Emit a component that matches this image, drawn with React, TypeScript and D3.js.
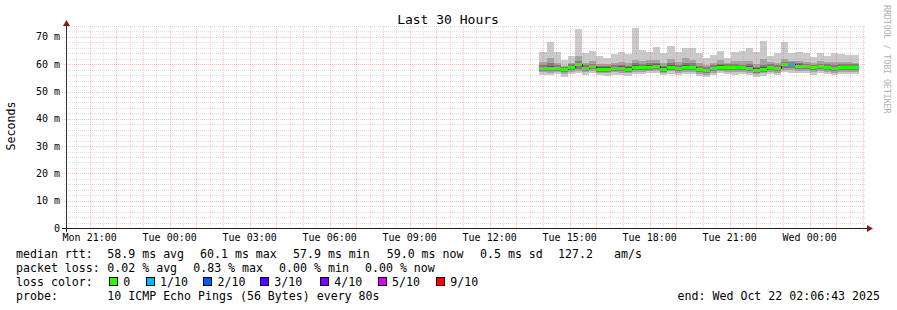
import React from 'react';
import * as d3 from 'd3';

const WIDTH = 897;
const HEIGHT = 310;
const END_TIME = '2025-10-22T02:06:43Z';
const SPAN_HOURS = 30;
const FIRST_STEP = '2025-10-21T13:52:00Z';
const STEP_SECONDS = 960;
const Y_MAX = 74;

const rttMax = [64.5, 68.3, 64.5, 61.7, 63.1, 73.0, 64.2, 65.0, 62.9, 62.4, 63.6, 64.5, 63.6, 73.4, 65.3, 64.5, 66.4, 64.1, 66.8, 64.5, 65.8, 65.8, 64.2, 62.4, 63.5, 65.0, 62.4, 64.3, 65.0, 66.1, 64.5, 68.6, 63.1, 64.1, 68.0, 64.2, 64.6, 64.2, 62.7, 64.2, 63.1, 64.1, 63.9, 63.5, 63.5];
const rttP9 = [60.8, 62.4, 60.3, 59.5, 60.6, 62.9, 60.5, 61.0, 60.0, 60.1, 60.6, 60.9, 60.3, 61.6, 61.2, 61.5, 61.7, 60.3, 62.0, 60.9, 62.3, 61.6, 60.6, 59.8, 60.4, 61.5, 60.5, 61.0, 61.2, 61.3, 60.2, 61.8, 60.8, 60.5, 62.0, 61.0, 61.0, 60.8, 60.5, 61.0, 60.7, 60.9, 60.8, 60.9, 60.6];
const rttP8 = [59.8, 60.4, 59.6, 59.0, 59.9, 61.0, 59.6, 60.2, 59.2, 59.3, 59.7, 59.8, 59.4, 60.3, 60.2, 60.3, 60.6, 59.4, 60.4, 59.8, 60.4, 60.3, 59.3, 58.9, 59.6, 60.2, 60.0, 59.9, 59.8, 59.9, 59.0, 59.6, 60.0, 59.6, 60.8, 60.8, 60.5, 60.2, 59.7, 60.2, 59.9, 59.6, 60.0, 59.9, 59.9];
const rttP7 = [59.1, 59.2, 59.1, 58.6, 59.5, 60.5, 59.1, 59.8, 58.8, 58.8, 59.1, 59.2, 58.8, 59.6, 59.5, 59.6, 60.0, 58.9, 59.6, 59.1, 59.6, 59.5, 58.7, 58.4, 59.1, 59.6, 59.5, 59.3, 59.3, 59.2, 58.5, 58.9, 59.5, 59.1, 60.4, 60.4, 60.0, 59.8, 59.3, 59.8, 59.5, 59.1, 59.5, 59.5, 59.5];
const rttMedian = [58.6, 58.6, 58.6, 58.1, 59.0, 60.1, 58.6, 59.3, 58.3, 58.3, 58.6, 58.6, 58.3, 59.0, 59.0, 59.0, 59.5, 58.3, 59.0, 58.6, 59.0, 59.0, 58.1, 57.9, 58.6, 59.0, 59.0, 58.8, 58.8, 58.6, 57.9, 58.3, 59.0, 58.6, 60.0, 60.0, 59.5, 59.3, 58.8, 59.3, 59.0, 58.6, 59.0, 59.0, 59.0];
const rttP4 = [58.0, 58.1, 58.1, 57.5, 58.4, 59.4, 58.1, 58.7, 57.8, 57.7, 58.1, 58.0, 57.7, 58.5, 58.4, 58.5, 58.9, 57.8, 58.5, 58.0, 58.5, 58.4, 57.6, 57.3, 58.0, 58.5, 58.4, 58.2, 58.2, 58.0, 57.4, 57.7, 58.4, 58.0, 59.3, 59.2, 58.9, 58.7, 58.2, 58.7, 58.4, 58.0, 58.4, 58.4, 58.4];
const rttP3 = [57.5, 57.6, 57.6, 57.0, 57.9, 58.4, 57.6, 58.1, 57.3, 57.2, 57.6, 57.5, 57.2, 58.0, 57.9, 58.0, 58.3, 57.3, 58.0, 57.5, 58.0, 57.9, 57.1, 56.8, 57.5, 58.0, 57.9, 57.7, 57.7, 57.5, 56.9, 57.2, 57.9, 57.5, 58.6, 58.5, 58.3, 58.1, 57.7, 58.2, 57.9, 57.5, 57.9, 57.9, 57.9];
const rttP2 = [57.0, 56.9, 57.1, 56.4, 57.3, 57.6, 57.0, 57.5, 56.7, 56.6, 57.0, 56.9, 56.6, 57.3, 57.3, 57.4, 57.6, 56.7, 57.4, 56.9, 57.3, 57.3, 56.5, 56.2, 56.9, 57.4, 57.3, 57.1, 57.1, 56.9, 56.3, 56.6, 57.3, 56.9, 57.9, 57.8, 57.6, 57.5, 57.1, 57.6, 57.3, 56.9, 57.3, 57.3, 57.2];
const rttMin = [56.2, 56.0, 56.3, 55.5, 56.4, 56.6, 56.2, 56.7, 55.9, 55.8, 56.2, 56.0, 55.8, 56.5, 56.4, 56.6, 56.7, 55.9, 56.5, 56.0, 56.4, 56.5, 55.6, 55.3, 56.0, 56.6, 56.4, 56.2, 56.3, 56.0, 55.4, 55.8, 56.4, 56.0, 57.0, 56.9, 56.8, 56.7, 56.2, 56.8, 56.5, 56.0, 56.5, 56.4, 56.3];
const lossPct = [0, 0, 0, 0, 0, 0, 0, 0, 0, 0, 0, 0, 0, 0, 0, 0, 0, 0, 0, 0, 0, 0, 0, 0, 0, 0, 0, 0, 0, 0, 0, 0, 0, 0, 0, 0.83, 0, 0, 0, 0, 0, 0, 0, 0, 0];

const lossLabels = ['0', '1/10', '2/10', '3/10', '4/10', '5/10', '9/10'];
const lossThresholds = [0, 1, 2, 3, 4, 5, 9];
const lossColors = ['#26ff00', '#00b8ff', '#0059ff', '#5e00ff', '#7e00ff', '#dd00ff', '#ff0000'];
const smokeColors = ['#cacaca', '#a4a4a4', '#7e7e7e', '#585858'];

const yTickValues = [0, 10, 20, 30, 40, 50, 60, 70];
const titleText = 'Last 30 Hours';
const yAxisTitle = 'Seconds';
const watermarkText = 'RRDTOOL / TOBI OETIKER';

const rttStatsLabel = 'median rtt:';
const rttStats = ['58.9 ms avg', '60.1 ms max', '57.9 ms min', '59.0 ms now', '0.5 ms sd', '127.2', 'am/s'];
const lossStatsLabel = 'packet loss:';
const lossStats = ['0.02 % avg', '0.83 % max', '0.00 % min', '0.00 % now'];
const lossColorLabel = 'loss color:';
const probeLabel = 'probe:';
const probeText = '10 ICMP Echo Pings (56 Bytes) every 80s';
const endText = 'end: Wed Oct 22 02:06:43 2025';

// layout
const PLOT_LEFT = 66;
const PLOT_RIGHT = 866;
const PLOT_TOP = 26;
const PLOT_BOTTOM = 228;
const MONO = '"DejaVu Sans Mono", monospace';
const rttStatX = [107.3, 200, 293, 386.7, 480, 558, 614];
const lossStatX = [107.3, 193.2, 279.1, 365];
const lossBoxX = [109, 145.7, 203.3, 260, 320, 377.7, 436];
const rowBaselines = [258, 272, 286, 300];
const MINOR_GRID = 'rgba(160,160,160,0.32)';
const MAJOR_GRID = 'rgba(240,90,90,0.38)';

function lossColor(pct: number) {
  const lost = (pct / 100) * 10;
  if (lost <= 0) return lossColors[0];
  for (let k = 1; k < lossThresholds.length; k++) {
    if (lost <= lossThresholds[k]) return lossColors[k];
  }
  return lossColors[lossColors.length - 1];
}

export default function App() {
  const end = new Date(END_TIME);
  const start = new Date(end.getTime() - SPAN_HOURS * 3600e3);
  const x = d3.scaleUtc().domain([start, end]).range([PLOT_LEFT, PLOT_RIGHT]);
  const y = d3.scaleLinear().domain([0, Y_MAX]).range([PLOT_BOTTOM, PLOT_TOP]);
  const first = new Date(FIRST_STEP).getTime();
  const colX = (i: number) => Math.round(x(new Date(first + i * STEP_SECONDS * 1000)));
  const ry = (v: number) => Math.round(y(v));

  const minorH = d3.range(0, Y_MAX + 0.001, 2).filter((v) => v % 10 !== 0);
  const majorH = d3.range(0, Y_MAX + 0.001, 10).filter((v) => v > 0);
  const minorV = d3.utcMinute.every(30)!.range(start, end).filter((d) => d.getUTCMinutes() !== 0);
  const majorV = d3.utcHour.every(1)!.range(start, end);
  const labelTicks = d3.utcHour.every(3)!.range(start, end);
  const fmt = d3.utcFormat('%a %H:%M');

  const bands: [number[], number[]][] = [
    [rttMin, rttMax],
    [rttP2, rttP9],
    [rttP3, rttP8],
    [rttP4, rttP7],
  ];

  const medianPath = (() => {
    let p = '';
    rttMedian.forEach((m, i) => {
      const x0 = colX(i);
      const x1 = colX(i + 1);
      const yy = ry(m) + 0.5;
      p += (i === 0 ? 'M' : 'L') + x0 + ',' + yy + 'L' + x1 + ',' + yy;
    });
    return p;
  })();

  return (
    <svg width={WIDTH} height={HEIGHT} style={{ position: 'absolute', left: 0, top: 0, background: '#fff' }} fontFamily={MONO}>
      <rect x={0} y={0} width={WIDTH} height={HEIGHT} fill="#ffffff" />
      {/* smoke */}
      <g shapeRendering="crispEdges">
        {bands.map(([lo, hi], b) =>
          lo.map((l, i) => {
            const x0 = colX(i);
            const x1 = colX(i + 1);
            const yt = ry(hi[i]);
            const yb = ry(l);
            return <rect key={`b${b}-${i}`} x={x0} y={yt} width={x1 - x0} height={Math.max(0, yb - yt)} fill={smokeColors[b]} />;
          })
        )}
      </g>
      <path d={medianPath} fill="none" stroke="#202020" strokeWidth={1} shapeRendering="crispEdges" />
      <g shapeRendering="crispEdges">
        {rttMedian.map((m, i) => {
          const x0 = colX(i);
          const x1 = colX(i + 1);
          const yc = ry(m);
          return <rect key={`m${i}`} x={x0} y={yc - 1} width={x1 - x0} height={3} fill={lossColor(lossPct[i])} />;
        })}
      </g>
      {/* grid */}
      <g shapeRendering="crispEdges" strokeWidth={1} strokeDasharray="1,1">
        {minorH.map((v) => (
          <line key={`mh${v}`} x1={PLOT_LEFT - 2} x2={PLOT_RIGHT} y1={ry(v) + 0.5} y2={ry(v) + 0.5} stroke={MINOR_GRID} />
        ))}
        {minorV.map((d) => (
          <line key={`mv${d.getTime()}`} x1={Math.round(x(d)) + 0.5} x2={Math.round(x(d)) + 0.5} y1={PLOT_TOP} y2={PLOT_BOTTOM + 2} stroke={MINOR_GRID} />
        ))}
        {majorH.map((v) => (
          <line key={`Mh${v}`} x1={PLOT_LEFT - 4} x2={PLOT_RIGHT} y1={ry(v) + 0.5} y2={ry(v) + 0.5} stroke={MAJOR_GRID} />
        ))}
        {majorV.map((d) => (
          <line key={`Mv${d.getTime()}`} x1={Math.round(x(d)) + 0.5} x2={Math.round(x(d)) + 0.5} y1={PLOT_TOP} y2={PLOT_BOTTOM + 3} stroke={MAJOR_GRID} />
        ))}
      </g>
      {/* axes */}
      <line x1={PLOT_LEFT + 0.5} x2={PLOT_LEFT + 0.5} y1={PLOT_BOTTOM + 4} y2={PLOT_TOP - 2} stroke="#303030" shapeRendering="crispEdges" />
      <line x1={PLOT_LEFT - 4} x2={PLOT_RIGHT + 3} y1={PLOT_BOTTOM + 0.5} y2={PLOT_BOTTOM + 0.5} stroke="#202020" shapeRendering="crispEdges" />
      <path d={`M${PLOT_LEFT - 3},${PLOT_TOP}L${PLOT_LEFT + 4},${PLOT_TOP}L${PLOT_LEFT + 0.5},${PLOT_TOP - 6}Z`} fill="#8b1a1a" />
      <path d={`M${PLOT_RIGHT + 1},${PLOT_BOTTOM - 3}L${PLOT_RIGHT + 1},${PLOT_BOTTOM + 4}L${PLOT_RIGHT + 7},${PLOT_BOTTOM + 0.5}Z`} fill="#8b1a1a" />
      {/* y tick labels */}
      <g fontSize={10} fill="#000" textAnchor="end">
        {yTickValues.map((v) => (
          <text key={`yl${v}`} x={60} y={y(v)} dy="0.35em">
            {v === 0 ? '0' : `${v} m`}
          </text>
        ))}
      </g>
      {/* x tick labels */}
      <g fontSize={10} fill="#000" textAnchor="middle">
        {labelTicks.map((d) => (
          <text key={`xl${d.getTime()}`} x={x(d)} y={241}>
            {fmt(d)}
          </text>
        ))}
      </g>
      {/* title */}
      <text x={448} y={24} fontSize={13} textAnchor="middle" fill="#000">{titleText}</text>
      <text transform="translate(15,126) rotate(-90)" fontSize={11.6} textAnchor="middle" fill="#000">{yAxisTitle}</text>
      <text transform="translate(884,5) rotate(90)" fontSize={8.2} fill="#b0b0b0">{watermarkText}</text>
      {/* legend */}
      <g fontSize={11.6} fill="#000">
        <text x={16} y={rowBaselines[0]}>{rttStatsLabel}</text>
        {rttStats.map((s, i) => (
          <text key={`rs${i}`} x={rttStatX[i]} y={rowBaselines[0]}>{s}</text>
        ))}
        <text x={16} y={rowBaselines[1]}>{lossStatsLabel}</text>
        {lossStats.map((s, i) => (
          <text key={`ls${i}`} x={lossStatX[i]} y={rowBaselines[1]}>{s}</text>
        ))}
        <text x={16} y={rowBaselines[2]}>{lossColorLabel}</text>
        {lossLabels.map((l, i) => (
          <g key={`lc${i}`}>
            <rect x={Math.round(lossBoxX[i]) + 0.5} y={277.5} width={8} height={8} fill={lossColors[i]} stroke="#000" strokeWidth={1} shapeRendering="crispEdges" />
            <text x={lossBoxX[i] + 14.3} y={rowBaselines[2]}>{l}</text>
          </g>
        ))}
        <text x={16} y={rowBaselines[3]}>{probeLabel}</text>
        <text x={107.3} y={rowBaselines[3]}>{probeText}</text>
        <text x={880} y={rowBaselines[3]} textAnchor="end">{endText}</text>
      </g>
    </svg>
  );
}
